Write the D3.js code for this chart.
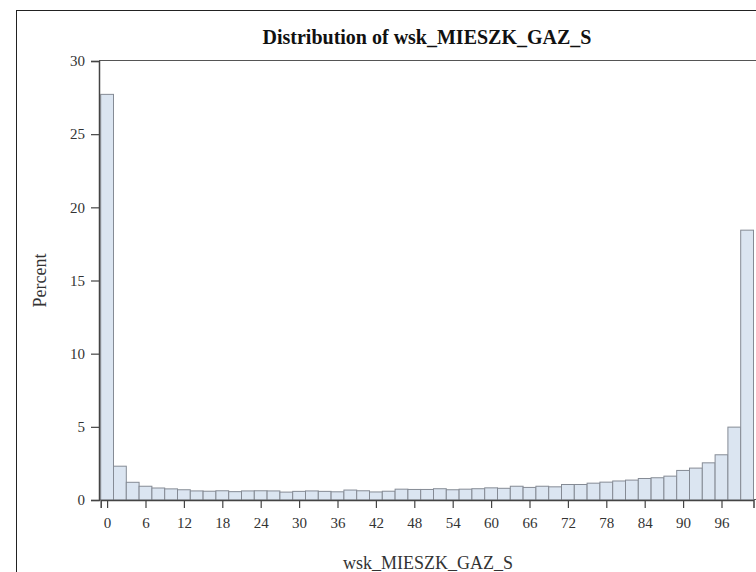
<!DOCTYPE html>
<html>
<head>
<meta charset="utf-8">
<script src="https://cdn.jsdelivr.net/npm/d3@7"></script>
<style>
  body { margin: 0; background: #fff; }
  text { font-family: "Liberation Serif", "DejaVu Serif", serif; fill: #333; }
</style>
</head>
<body>
<script>
// bin midpoints (width 2) and percent per bin
var binMids = d3.range(0, 102, 2);
var percents = [27.72, 2.31, 1.21, 0.94, 0.82, 0.76, 0.70, 0.62, 0.60, 0.63,
                0.57, 0.62, 0.63, 0.62, 0.54, 0.59, 0.62, 0.59, 0.56, 0.68,
                0.63, 0.55, 0.60, 0.74, 0.72, 0.72, 0.77, 0.70, 0.74, 0.77,
                0.83, 0.80, 0.94, 0.86, 0.94, 0.90, 1.06, 1.06, 1.15, 1.22,
                1.30, 1.36, 1.47, 1.52, 1.63, 2.02, 2.18, 2.54, 3.09, 4.98,
                18.44];
var xTicks = d3.range(0, 97, 6);
var yTicks = [0, 5, 10, 15, 20, 25, 30];
var binWidth = 2;

var screen = {width: 756, height: 572}
var plot = {left: 99, top: 61, right: 756, bottom: 500}

var svg = d3.select("body")
            .append("svg")
            .attr("width", screen.width)
            .attr("height", screen.height);

// outer border
svg.append("rect")
   .attr("x", 16.5)
   .attr("y", 10.5)
   .attr("width", 800)
   .attr("height", 600)
   .attr("fill", "none")
   .attr("stroke", "#222")
   .attr("stroke-width", 1);

var x = d3.scaleLinear()
          .domain([-1, 101])
          .range([100.7, 753.5]);

var y = d3.scaleLinear()
          .domain([0, 30])
          .range([plot.bottom, plot.top]);

// plot frame
svg.append("rect")
   .attr("x", plot.left + 0.5)
   .attr("y", plot.top - 0.5)
   .attr("width", 700)
   .attr("height", plot.bottom - plot.top)
   .attr("fill", "none")
   .attr("stroke", "#555");

var bins = binMids.map(function(m, i) { return {mid: m, pct: percents[i]}; });

svg.append("g")
   .selectAll("rect")
   .data(bins)
   .enter()
   .append("rect")
   .attr("x", function(d) { return x(d.mid - binWidth/2); })
   .attr("width", function(d) { return x(d.mid + binWidth/2) - x(d.mid - binWidth/2); })
   .attr("y", function(d) { return y(d.pct); })
   .attr("height", function(d) { return y(0) - y(d.pct); })
   .attr("fill", "#dbe5f1")
   .attr("stroke", "#858b95")
   .attr("stroke-width", 1);

// axes
var yAxis = svg.append("g")
               .attr("transform", "translate(" + plot.left + ",0)")
               .call(d3.axisLeft(y).tickValues(yTicks).tickSize(8).tickPadding(6));

var xAxis = svg.append("g")
               .attr("transform", "translate(0," + plot.bottom + ")")
               .call(d3.axisBottom(x).tickValues(xTicks).tickSize(8).tickPadding(9));

[yAxis, xAxis].forEach(function(a) {
  a.select(".domain").attr("stroke", "#444").attr("stroke-width", 1.5);
  a.selectAll(".tick line").attr("stroke", "#444").attr("stroke-width", 1.2);
  a.selectAll(".tick text")
   .attr("fill", "#333")
   .attr("font-size", "15px")
   .attr("font-family", "Liberation Serif, DejaVu Serif, serif");
});

// title
svg.append("text")
   .attr("x", 427)
   .attr("y", 44)
   .attr("text-anchor", "middle")
   .attr("font-size", "20px")
   .attr("font-weight", "bold")
   .style("fill", "#111")
   .text("Distribution of wsk_MIESZK_GAZ_S");

// axis labels
svg.append("text")
   .attr("x", 428)
   .attr("y", 569)
   .attr("text-anchor", "middle")
   .attr("font-size", "18px")
   .text("wsk_MIESZK_GAZ_S");

svg.append("text")
   .attr("transform", "translate(46," + ((plot.top + plot.bottom)/2) + ") rotate(-90)")
   .attr("text-anchor", "middle")
   .attr("font-size", "18px")
   .text("Percent");
</script>
</body>
</html>
